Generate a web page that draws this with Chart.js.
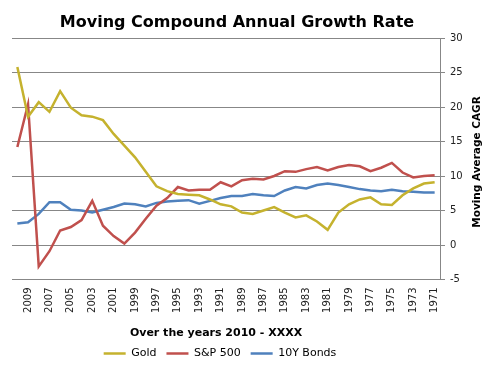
<!DOCTYPE html>
<html>
<head>
<meta charset="utf-8">
<script src="https://cdn.jsdelivr.net/npm/chart.js@4.4.1/dist/chart.umd.min.js"></script>
<style>
  html, body { margin: 0; padding: 0; background: #fff; }
  #wrap { width: 490px; height: 366px; }
</style>
</head>
<body>
<div id="wrap"><canvas id="cagrChart" width="490" height="366"></canvas></div>
<script>
// years run backwards, 2010 down to 1971
const years = [];
for (let y = 2010; y >= 1971; y--) years.push(String(y));

const gold = [25.8, 18.6, 20.7, 19.3, 22.3, 19.9, 18.8, 18.6, 18.1, 16.1,
              14.4, 12.7, 10.6, 8.5, 7.8, 7.4, 7.3, 7.2, 6.6, 5.9,
              5.6, 4.7, 4.5, 5.0, 5.5, 4.7, 4.0, 4.3, 3.4, 2.2,
              4.7, 5.9, 6.6, 6.9, 5.9, 5.8, 7.2, 8.2, 8.9, 9.1];
const sp500 = [14.2, 20.4, -3.1, -0.9, 2.1, 2.6, 3.6, 6.4, 2.8, 1.3,
               0.2, 1.8, 3.8, 5.7, 6.8, 8.4, 7.9, 8.0, 8.0, 9.1,
               8.5, 9.4, 9.6, 9.5, 10.0, 10.7, 10.6, 11.0, 11.3, 10.8,
               11.3, 11.6, 11.4, 10.7, 11.2, 11.9, 10.5, 9.8, 10.0, 10.1];
const bonds = [3.1, 3.3, 4.5, 6.2, 6.2, 5.1, 5.0, 4.7, 5.1, 5.5,
               6.0, 5.9, 5.6, 6.1, 6.3, 6.4, 6.5, 6.0, 6.4, 6.8,
               7.1, 7.1, 7.4, 7.2, 7.1, 7.9, 8.4, 8.2, 8.7, 8.9,
               8.7, 8.4, 8.1, 7.9, 7.8, 8.0, 7.8, 7.7, 7.6, 7.6];
const yTicks = [-5, 0, 5, 10, 15, 20, 25, 30];

const FONT = '"DejaVu Sans", Verdana, sans-serif';
const GRID = '#878787';

// titles drawn by hand so they sit where Excel put them
const textPlugin = {
    id: 'texts',
    afterLayout(chart) {
        const lg = chart.legend;
        if (lg) { lg.left -= 31; lg.right -= 31; lg.top += 3; lg.bottom += 3; }
    },
    afterDraw(chart) {
        const ctx = chart.ctx;
        ctx.save();
        ctx.fillStyle = '#000';
        ctx.textAlign = 'center';
        ctx.textBaseline = 'alphabetic';
        ctx.font = 'bold 16px ' + FONT;
        ctx.fillText('Moving Compound Annual Growth Rate', 237, 27);
        ctx.font = 'bold 11px ' + FONT;
        ctx.fillText('Over the years 2010 - XXXX', 216, 336);
        ctx.translate(480, 162);
        ctx.rotate(-Math.PI / 2);
        ctx.font = 'bold 10.5px ' + FONT;
        ctx.fillText('Moving Average CAGR', 0, 0);
        ctx.restore();
    }
};

const line = (label, data, color) => ({
    label, data,
    borderColor: color, backgroundColor: color,
    borderWidth: 2.5, pointRadius: 0, tension: 0, fill: false
});

new Chart(document.getElementById('cagrChart'), {
    type: 'line',
    data: {
        labels: years,
        datasets: [
            line('Gold', gold, '#C5B22E'),
            line('S&P 500', sp500, '#C0504D'),
            line('10Y Bonds', bonds, '#4F81BD')
        ]
    },
    options: {
        responsive: false,
        animation: false,
        layout: { padding: { top: 38, left: 12, right: 0, bottom: 0 } },
        plugins: {
            title: { display: false },
            tooltip: { enabled: false },
            legend: {
                position: 'bottom',
                labels: {
                    usePointStyle: true, pointStyle: 'line', pointStyleWidth: 22,
                    color: '#000', font: { family: FONT, size: 11 }, padding: 10
                }
            }
        },
        scales: {
            x: {
                offset: true,
                grid: { display: false, drawTicks: false },
                border: { display: false },
                ticks: {
                    autoSkip: false, minRotation: 90, maxRotation: 90, padding: 8,
                    color: '#222', font: { family: FONT, size: 10 },
                    callback: (v, i) => i % 2 === 1 ? years[i] : ''
                },
                afterFit: s => { s.height = 55.5; }
            },
            y: {
                position: 'right',
                min: -5, max: 30,
                afterBuildTicks: s => { s.ticks = yTicks.map(v => ({ value: v })); },
                grid: { color: GRID, tickLength: 5 },
                border: { color: GRID },
                ticks: { padding: 5, color: '#222', font: { family: FONT, size: 10 } },
                afterFit: s => { s.width = 50; }
            }
        }
    },
    plugins: [textPlugin]
});
</script>
</body>
</html>
